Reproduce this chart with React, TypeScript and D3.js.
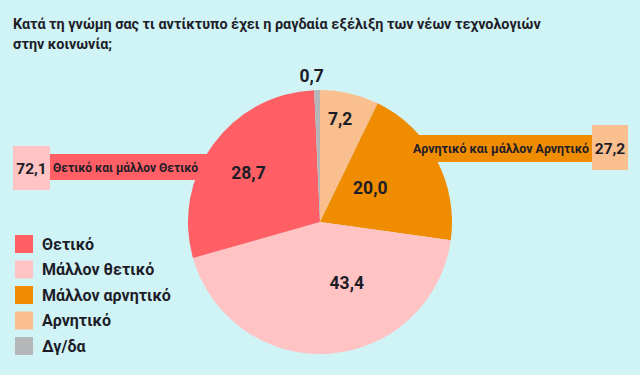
import React from "react";
import * as d3 from "d3";

const W = 640;
const H = 375;

const titleLines = [
  "Κατά τη γνώμη σας τι αντίκτυπο έχει η ραγδαία εξέλιξη των νέων τεχνολογιών",
  "στην κοινωνία;",
];

// slices, clockwise from 12 o'clock
const sliceNames = ["Αρνητικό", "Μάλλον αρνητικό", "Μάλλον θετικό", "Θετικό", "Δγ/δα"];
const sliceValues = [7.2, 20.0, 43.4, 28.7, 0.7];
const sliceColors = ["#f9bf8f", "#f08c00", "#ffc3c3", "#ff5f65", "#b4b6b8"];
// label placement: fraction of radius, angular tweak (deg)
const labelRadius = [0.8, 0.46, 0.5, 0.66, 1.11];
const labelAngleShift = [-2, -6, -20, -1, -2];

const legendNames = ["Θετικό", "Μάλλον θετικό", "Μάλλον αρνητικό", "Αρνητικό", "Δγ/δα"];
const legendColors = ["#ff5f65", "#ffc3c3", "#f08c00", "#f9bf8f", "#b4b6b8"];

const posTotal = "72,1";
const posLabel = "Θετικό και μάλλον Θετικό";
const negTotal = "27,2";
const negLabel = "Αρνητικό και μάλλον Αρνητικό";

const fmt = (v: number) => v.toFixed(1).replace(".", ",");

const FONT = "Roboto, sans-serif";
const TXT = "#1d1d28";

export default function App() {
  const cx = 320;
  const cy = 222;
  const R = 132;
  const pie = d3
    .pie<number>()
    .sort(null)
    .value((d) => d)
    .startAngle(0)
    .endAngle(2 * Math.PI);
  const arcs = pie(sliceValues);
  const arc = d3.arc<d3.PieArcDatum<number>>().innerRadius(0).outerRadius(R);

  const legendY = d3
    .scalePoint<string>()
    .domain(legendNames)
    .range([244, 346]);

  return (
    <svg
      width={W}
      height={H}
      style={{ position: "absolute", left: 0, top: 0, display: "block" }}
      fontFamily={FONT}
    >
      <rect x={0} y={0} width={W} height={H} fill="#d0f3f6" />
      {titleLines.map((t, i) => (
        <text
          key={i}
          x={13}
          y={29 + i * 20}
          fontSize={14.4}
          fontWeight={700}
          fill={TXT}
        >
          {t}
        </text>
      ))}

      {/* callout bars (behind pie) */}
      <rect x={50} y={154} width={220} height={26} fill="#ff5f65" />
      <rect x={13} y={146} width={37} height={44} fill="#ffc3c3" />
      <rect x={360} y={135} width={232} height={27} fill="#f08c00" />
      <rect x={592} y={125} width={36} height={45} fill="#f9bf8f" />

      <g transform={`translate(${cx},${cy})`}>
        {arcs.map((a, i) => (
          <path key={i} d={arc(a) || ""} fill={sliceColors[i]} />
        ))}
        {arcs.map((a, i) => {
          const mid = (a.startAngle + a.endAngle) / 2 + (labelAngleShift[i] * Math.PI) / 180;
          const r = R * labelRadius[i];
          const x = r * Math.sin(mid);
          const y = -r * Math.cos(mid);
          return (
            <text
              key={i}
              x={x}
              y={y}
              dy="0.36em"
              textAnchor="middle"
              fontSize={17.5}
              fontWeight={700}
              fill={TXT}
            >
              {fmt(sliceValues[i])}
            </text>
          );
        })}
      </g>

      {/* callout texts (above pie) */}
      <text x={31.5} y={173.5} textAnchor="middle" fontSize={15.5} fontWeight={700} fill={TXT}>
        {posTotal}
      </text>
      <text x={53} y={171.5} fontSize={12} fontWeight={700} fill={TXT}>
        {posLabel}
      </text>
      <text x={610} y={153.5} textAnchor="middle" fontSize={15.5} fontWeight={700} fill={TXT}>
        {negTotal}
      </text>
      <text x={589} y={152.5} textAnchor="end" fontSize={12.4} fontWeight={700} fill={TXT}>
        {negLabel}
      </text>

      {legendNames.map((n, i) => {
        const y = legendY(n) as number;
        return (
          <g key={n}>
            <rect x={15} y={y - 9} width={18} height={18} fill={legendColors[i]} />
            <text x={42} y={y} dy="0.36em" fontSize={16} fontWeight={700} fill={TXT}>
              {n}
            </text>
          </g>
        );
      })}
    </svg>
  );
}
